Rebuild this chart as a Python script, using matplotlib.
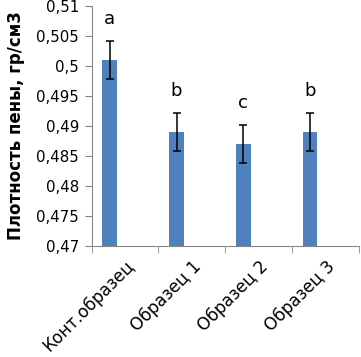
import numpy as np
import matplotlib
matplotlib.use('Agg')
import matplotlib.pyplot as plt
from matplotlib.ticker import FixedLocator, FuncFormatter

categories = ['Конт.образец', 'Образец 1', 'Образец 2', 'Образец 3']
density = [0.501, 0.489, 0.487, 0.489]
errors = [0.0032, 0.0032, 0.0032, 0.0032]
letters = ['a', 'b', 'c', 'b']

plt.rcParams['font.family'] = ['DejaVu Sans']
fig = plt.figure(figsize=(3.61, 3.57), dpi=100)
ax = fig.add_axes([0.254, 0.311, 0.74, 0.672])

x = np.arange(len(categories))
xb = x - 0.23
ax.bar(xb, density, width=0.22, color='#4F81BD', zorder=2)
ax.errorbar(xb, density, yerr=errors, fmt='none', ecolor='black',
            elinewidth=1.1, capsize=3, capthick=1.1, zorder=3)
for xi, d, e, l in zip(xb, density, errors, letters):
    ax.text(xi, d + e + 0.0021, l, ha='center', va='bottom', fontsize=13)

ax.set_xlim(-0.5, 3.5)
ax.set_ylim(0.47, 0.51)
ax.yaxis.set_major_locator(FixedLocator(np.arange(0.47, 0.5101, 0.005)))
ax.yaxis.set_major_formatter(FuncFormatter(lambda v, p: ('%g' % round(v, 3)).replace('.', ',')))
ax.set_xticks(x)
ax.set_xticklabels(categories, rotation=45, ha='right', rotation_mode='anchor', fontsize=12.2)
ax.xaxis.set_minor_locator(FixedLocator(np.arange(-0.5, 3.6, 1)))
ax.tick_params(axis='x', which='major', length=0, pad=8)
ax.tick_params(axis='x', which='minor', length=5, color='#868686')
ax.tick_params(axis='y', length=5, color='#868686', labelsize=10.8, pad=4)
for s in ['top', 'right']:
    ax.spines[s].set_visible(False)
for s in ['left', 'bottom']:
    ax.spines[s].set_color('#868686')
ax.set_ylabel('Плотность пены, гр/см3', fontsize=12, fontweight='bold', labelpad=8)

plt.savefig('out.png', dpi=100)
